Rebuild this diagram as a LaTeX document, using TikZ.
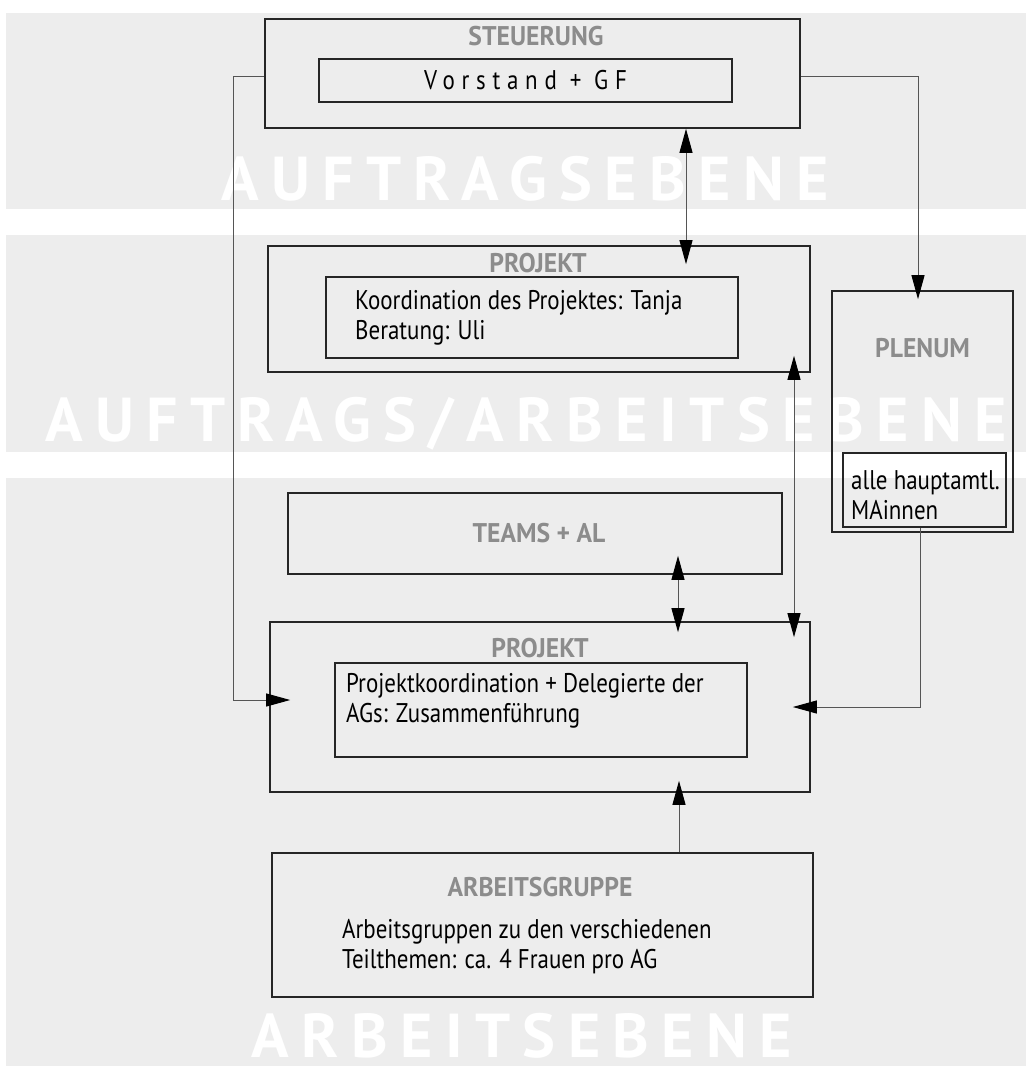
\documentclass[tikz,border=0pt]{standalone}
\usepackage{fontspec}
\setmainfont{PT Sans}
\newfontfamily\bodyfont[FakeStretch=0.85]{PT Sans}
\newfontfamily\headfont[FakeStretch=0.95]{PT Sans}
\newfontfamily\spacedfont[FakeStretch=0.85,LetterSpace=25]{PT Sans}
\newfontfamily\markfont[LetterSpace=20]{PT Sans}
\usetikzlibrary{calc}
\usetikzlibrary {arrows.meta}
\tikzset{>={Triangle[length=24pt,width=13pt,color=black]}}
\definecolor{bandgray}{HTML}{EDEDED}
\definecolor{headgray}{HTML}{8C8C8C}
\definecolor{linegray}{HTML}{555555}
\tikzset{
	band/.style={fill=bandgray, draw=none},
	outerbox/.style={draw=black!85, line width=1.6pt, inner sep=0pt},
	innerbox/.style={draw=black!85, line width=1.1pt, inner sep=0pt},
	heading/.style={font=\headfont\bfseries\fontsize{27}{30}\selectfont, text=headgray, anchor=base},
	bodytext/.style={font=\bodyfont\fontsize{27}{30}\selectfont, align=left, anchor=west, inner sep=0pt},
	watermark/.style={font=\markfont\bfseries\fontsize{62}{62}\selectfont, text=white, anchor=base, inner sep=0pt},
	conn/.style={draw=linegray, line width=1pt}
}

\begin{document}
\begin{tikzpicture}[x=1pt, y=-1pt]
\useasboundingbox (0,0) rectangle (1026,1068);
\fill[band] (6,13) rectangle (1026,209);
\fill[band] (6,235) rectangle (1026,452);
\fill[band] (6,478) rectangle (1026,1066);

\node[watermark] (markA) at (525,200) {AUFTRAGSEBENE};
\node[watermark] (markB) at (526,441) {AUFTRAGS/ARBEITSEBENE};
\node[watermark] (markC) at (522,1057) {ARBEITSEBENE};

\node[outerbox, minimum width=535pt, minimum height=109pt] (steuer) at (532.5,73.5) {};
\node[heading] (steuerT) at (536,45) {STEUERUNG};
\node[innerbox, minimum width=413pt, minimum height=43pt,
	font=\spacedfont\fontsize{27}{30}\selectfont] (vorstand) at (525.5,80.5) {Vorstand + GF};

\node[outerbox, minimum width=542pt, minimum height=126pt] (projA) at (539,309) {};
\node[heading] (projAT) at (538,272) {PROJEKT};
\node[innerbox, minimum width=412pt, minimum height=81pt] (projAin) at (532,317.5) {};
\node[bodytext] (projAtxt) at (355,318) {Koordination des Projektes: Tanja\\Beratung: Uli};

\node[outerbox, minimum width=181pt, minimum height=241pt] (plenum) at (922.5,411.5) {};
\node[heading] (plenumT) at (922.5,357) {PLENUM};
\node[innerbox, minimum width=163pt, minimum height=74pt] (plenumin) at (924.5,490) {};
\node[bodytext] (plenumtxt) at (851,495) {alle hauptamtl.\\MAinnen};

\node[outerbox, minimum width=494pt, minimum height=81pt] (teams) at (535,533.5) {};
\node[heading] (teamsT) at (539,542) {TEAMS + AL};

\node[outerbox, minimum width=540pt, minimum height=170pt] (projB) at (540,707) {};
\node[heading] (projBT) at (540,657) {PROJEKT};
\node[innerbox, minimum width=412pt, minimum height=94pt] (projBin) at (541,710) {};
\node[bodytext] (projBtxt) at (346,701) {Projektkoordination + Delegierte der\\AGs: Zusammenführung};

\node[outerbox, minimum width=541pt, minimum height=144pt] (arbeit) at (542.5,925) {};
\node[heading] (arbeitT) at (540,896) {ARBEITSGRUPPE};
\node[bodytext] (arbeittxt) at (342,947) {Arbeitsgruppen zu den verschiedenen\\Teilthemen: ca. 4 Frauen pro AG};

	\draw [conn, ->, shorten >=-21pt] ($(steuer.west) + (0,3)$) -- ++(-31,0) |- ($(projB.west) + (0,-7)$);
	\draw [conn, ->, shorten >=-9pt] ($(steuer.east) + (0,3)$) -| ($(plenum.north) + (-4.5,0)$);
	\draw [conn, ->, shorten >=-18pt] ($(plenumin.south) + (-4.5,0)$) |- (projB.east);
	\draw [conn, <->, shorten >=-19pt] ($(steuer.south) + (153.5,0)$) -- ($(projA.north) + (147,0)$);
	\draw [conn, <->, shorten <=-17pt, shorten >=-16pt] ($(projA.south) + (255,0)$) -- ($(projB.north) + (254,0)$);
	\draw [conn, <->, shorten <=-19pt, shorten >=-11pt] ($(teams.south) + (143,0)$) -- ($(projB.north) + (138,0)$);
	\draw [conn, ->, shorten >=-12pt] ($(arbeit.north) + (136.5,0)$) -- ($(projB.south) + (139,0)$);
\end{tikzpicture}
\end{document}
